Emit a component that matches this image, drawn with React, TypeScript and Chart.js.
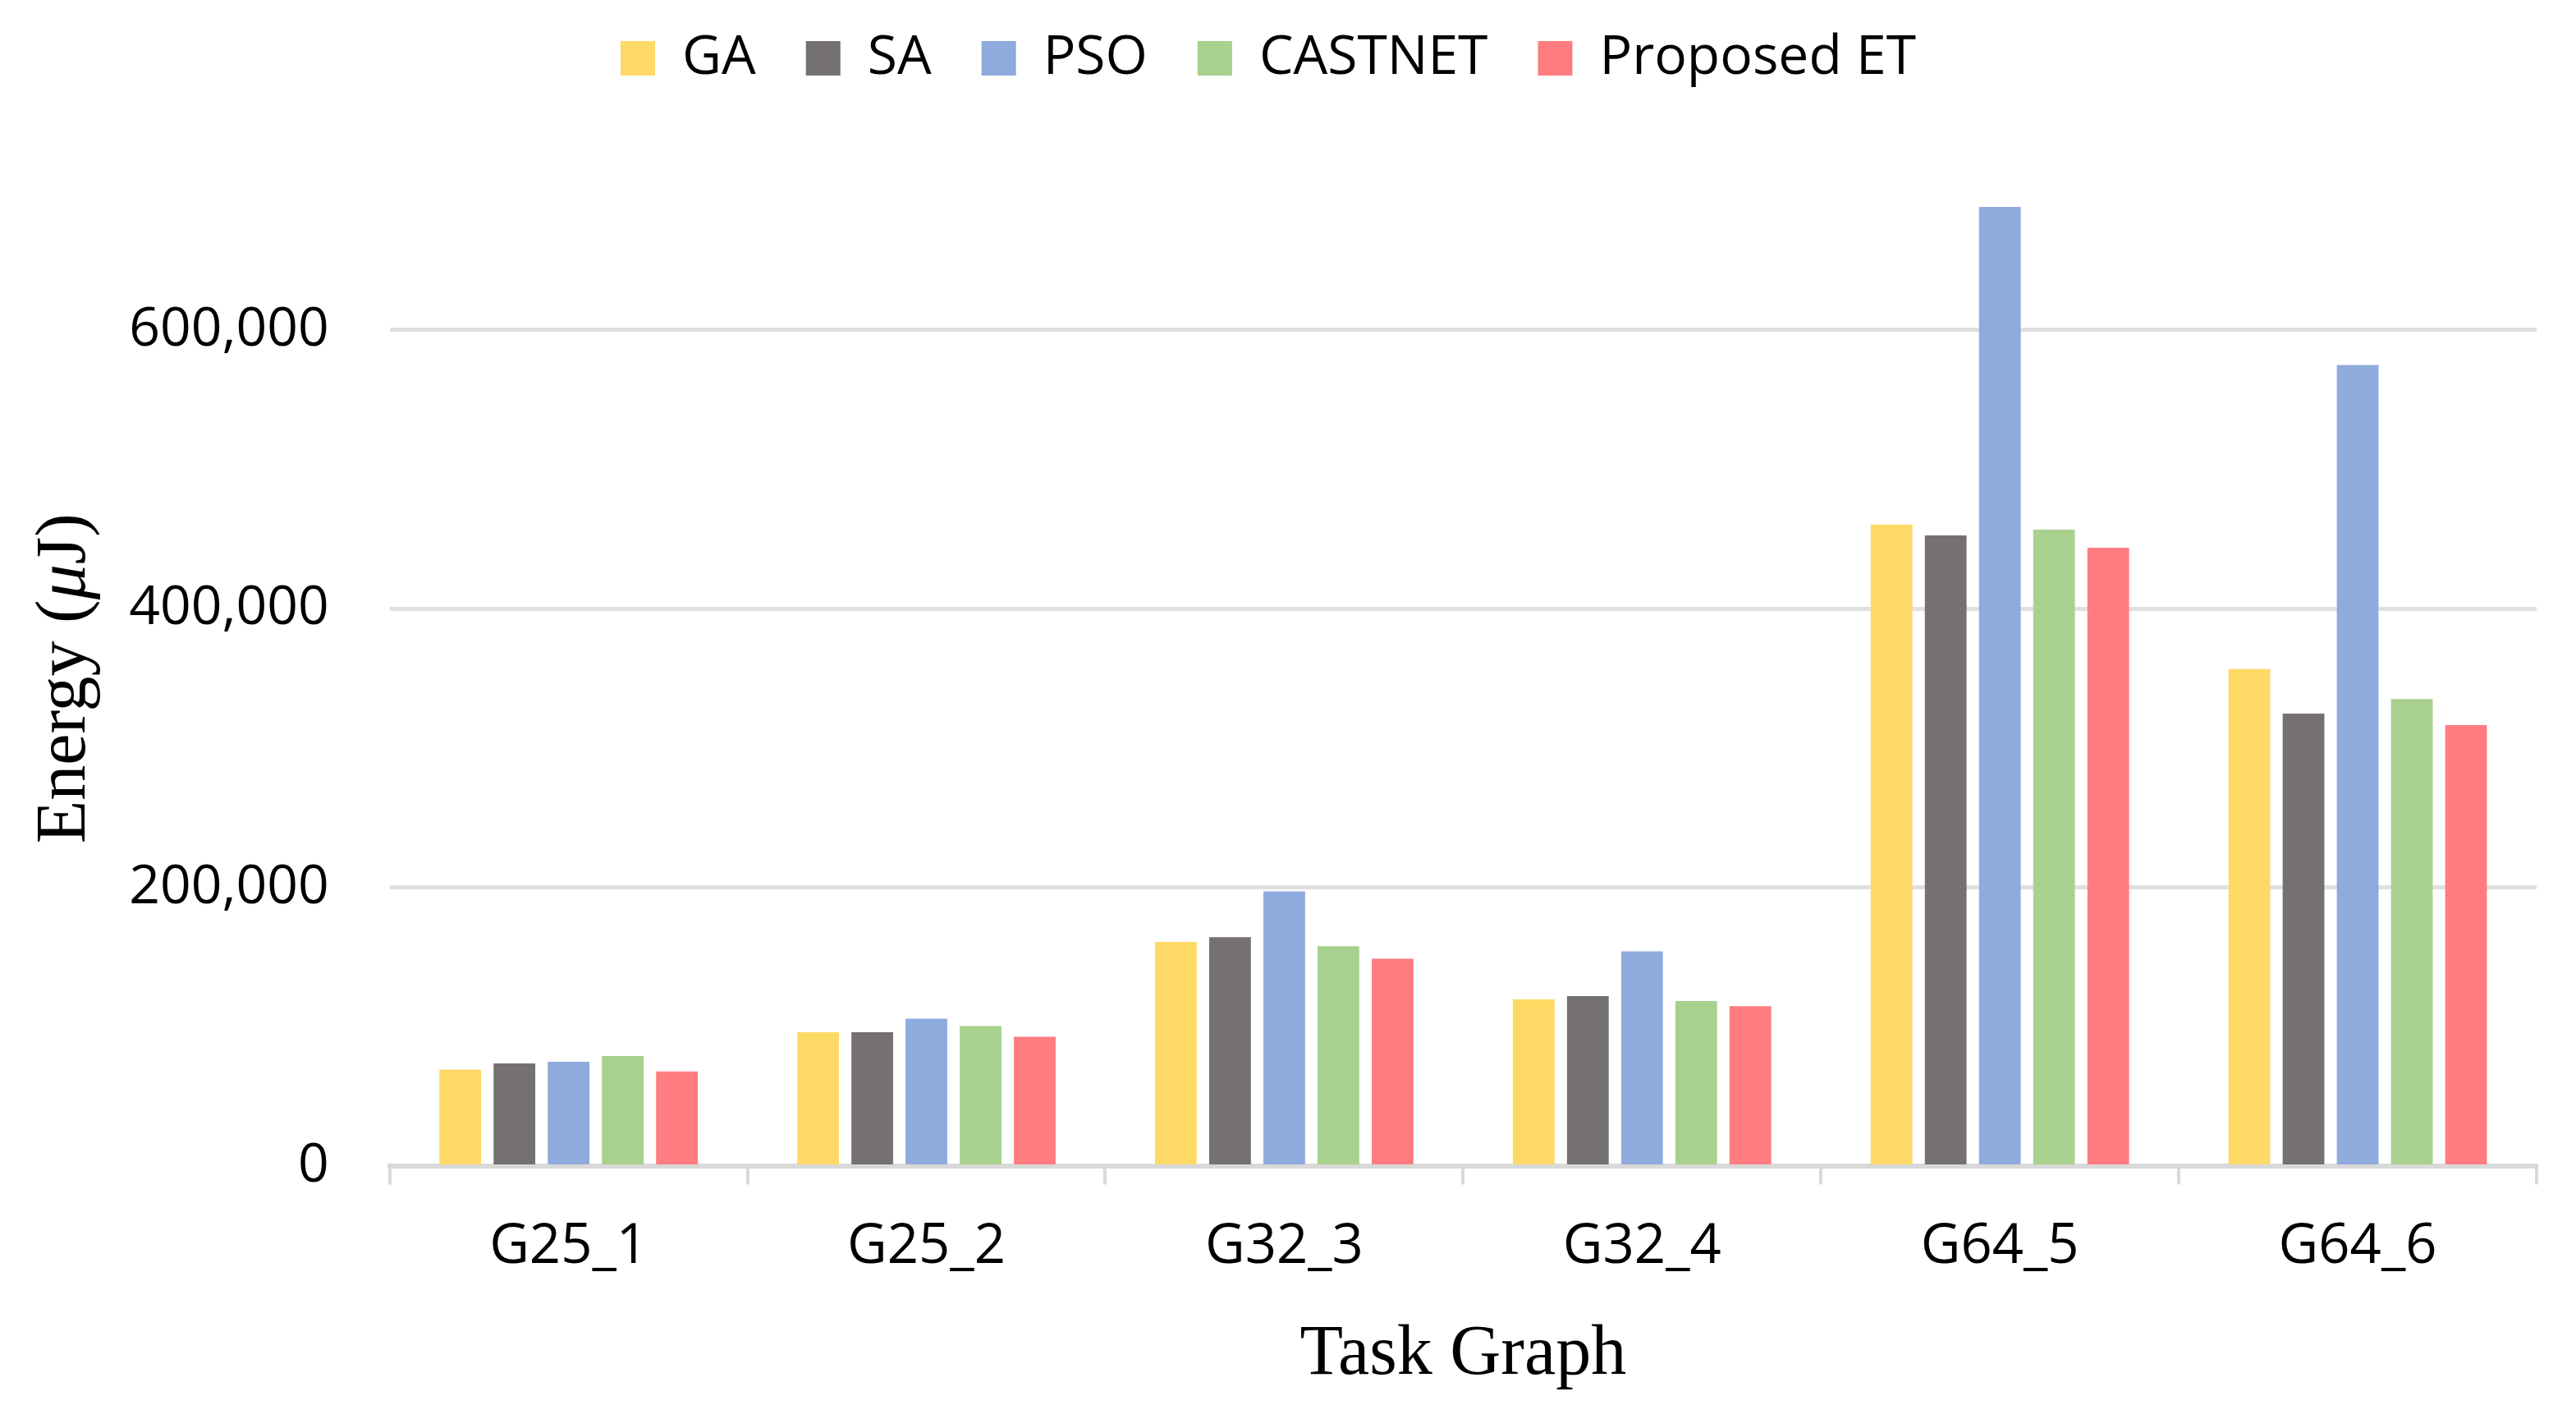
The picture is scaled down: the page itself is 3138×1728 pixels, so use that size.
import React, { useRef, useEffect, FC } from 'react';
import Chart from 'chart.js/auto';

const taskGraphs = ['G25_1', 'G25_2', 'G32_3', 'G32_4', 'G64_5', 'G64_6'];
const seriesNames = ['GA', 'SA', 'PSO', 'CASTNET', 'Proposed ET'];
const seriesColors = ['#FFD966', '#767171', '#8FAADC', '#A9D18E', '#FF7C80'];

const gaValues = [69500, 96300, 161000, 119800, 460400, 356800];
const saValues = [73900, 96300, 164400, 122100, 452600, 324800];
const psoValues = [75100, 106000, 197200, 154300, 688200, 574900];
const castnetValues = [79200, 100700, 157900, 118600, 456800, 335300];
const etValues = [68100, 93000, 149000, 115000, 443800, 316600];

const yTicks = [0, 200000, 400000, 600000];

const sans = '"Open Sans", "Noto Sans", sans-serif';
const serif = '"Liberation Serif", "Times New Roman", serif';

// legend sits high, but the plot starts well below it
const legendSpacer = {
  id: 'legendSpacer',
  beforeLayout(chart: any) {
    const legend = chart.legend;
    if (!legend || legend._spaced) return;
    const fit = legend.fit;
    legend.fit = function () {
      fit.call(this);
      this.height += 118;
    };
    legend._spaced = true;
  },
};

// y title with an italic mu, drawn where the (hidden) axis title is
const yTitle = {
  id: 'yTitle',
  afterDraw(chart: any) {
    const { ctx, chartArea } = chart;
    const parts: [string, string][] = [
      ['Energy (', 'normal'],
      ['μ', 'italic'],
      ['J)', 'normal'],
    ];
    ctx.save();
    ctx.fillStyle = '#000';
    ctx.textBaseline = 'middle';
    const widths = parts.map(([t, s]) => {
      ctx.font = `${s} 86px ${serif}`;
      return ctx.measureText(t).width;
    });
    const total = widths.reduce((a, b) => a + b, 0);
    ctx.translate(80, (chartArea.top + chartArea.bottom) / 2);
    ctx.rotate(-Math.PI / 2);
    let x = -total / 2;
    parts.forEach(([t, s], i) => {
      ctx.font = `${s} 86px ${serif}`;
      ctx.textAlign = 'left';
      ctx.fillText(t, x, 0);
      x += widths[i];
    });
    ctx.restore();
  },
};

const EnergyChart: FC = () => {
  const chartRef = useRef<HTMLCanvasElement>(null);

  useEffect(() => {
    const ctx = chartRef.current?.getContext('2d');
    if (!ctx) return;
    const values = [gaValues, saValues, psoValues, castnetValues, etValues];

    const myChart = new Chart(ctx, {
      type: 'bar',
      data: {
        labels: taskGraphs,
        datasets: seriesNames.map((name, i) => ({
          label: name,
          data: values[i],
          backgroundColor: seriesColors[i],
          borderWidth: 0,
          categoryPercentage: 0.757,
          barPercentage: 0.77,
        })),
      },
      plugins: [legendSpacer, yTitle],
      options: {
        animation: false,
        responsive: true,
        maintainAspectRatio: false,
        layout: { padding: { top: -23, right: 48, bottom: 26, left: 0 } },
        plugins: {
          tooltip: { enabled: false },
          legend: {
            position: 'top',
            labels: {
              font: { family: sans, size: 66 },
              color: '#000',
              boxWidth: 42,
              boxHeight: 42,
              padding: 61,
            },
          },
        },
        scales: {
          x: {
            grid: {
              display: true,
              drawOnChartArea: false,
              drawTicks: true,
              tickLength: 22,
              color: '#d9d9d9',
              lineWidth: 4,
            },
            border: { color: '#d9d9d9', width: 6 },
            ticks: {
              font: { family: sans, size: 67 },
              color: '#000',
              padding: 36,
            },
            title: {
              display: true,
              text: 'Task Graph',
              font: { family: serif, size: 86 },
              color: '#000',
              padding: { top: 4, bottom: 0 },
            },
          },
          y: {
            min: 0,
            max: 700000,
            afterBuildTicks: (axis) => {
              axis.ticks = yTicks.map((v) => ({ value: v }));
            },
            grid: {
              color: '#e0e0e0',
              lineWidth: 5,
              drawTicks: false,
            },
            border: { display: false },
            ticks: {
              font: { family: sans, size: 66 },
              color: '#000',
              padding: 74,
              callback: (v) => Number(v).toLocaleString('en-US'),
            },
            title: {
              display: true,
              text: 'Energy (μJ)',
              font: { family: serif, size: 86 },
              color: 'rgba(0,0,0,0)',
              padding: { top: 29, bottom: -49 },
            },
          },
        },
      },
    });

    return () => {
      myChart.destroy();
    };
  }, []);

  return (
    <div style={{ position: 'fixed', left: 0, top: 0, width: 3138, height: 1728, background: '#fff' }}>
      <canvas ref={chartRef} />
    </div>
  );
};

export default function App() {
  return <EnergyChart />;
}
